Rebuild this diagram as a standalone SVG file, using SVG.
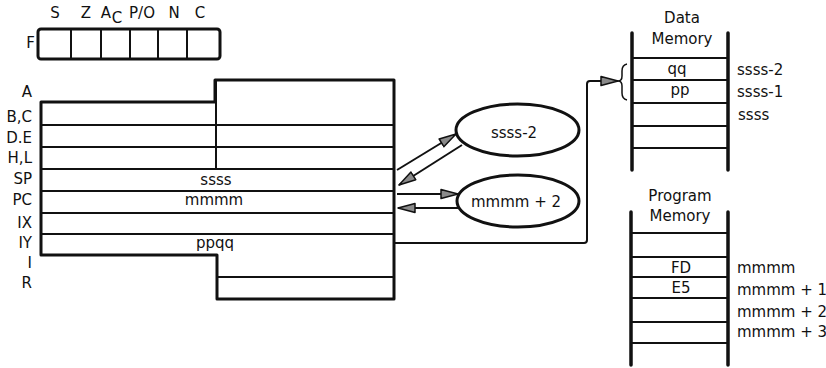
<svg xmlns="http://www.w3.org/2000/svg" width="826" height="368" viewBox="0 0 826 368">
<style>
text{font-family:"DejaVu Sans","Liberation Sans",sans-serif;font-size:15px;fill:#111}
.e{text-anchor:end}
.m{text-anchor:middle}
.out{fill:none;stroke:#111;stroke-width:3;stroke-linejoin:round}
.ln{fill:none;stroke:#111;stroke-width:2}
.rail{fill:none;stroke:#111;stroke-width:3.5;stroke-linecap:round}
.conn{fill:none;stroke:#111;stroke-width:2}
</style>
<defs>
<marker id="ah" markerWidth="20" markerHeight="12" refX="18" refY="6" orient="auto" markerUnits="userSpaceOnUse">
<path d="M1,1.5 L18,6 L1,10.5 Z" fill="#8a8a8a" stroke="#111" stroke-width="1.5" stroke-linejoin="round"/>
</marker>
</defs>

<g id="flags">
<text x="55" y="18" class="m">S</text>
<text x="86" y="18" class="m">Z</text>
<text x="106" y="18" class="m">A</text>
<text x="117" y="23" class="m">C</text>
<text x="142" y="18" class="m">P/O</text>
<text x="174" y="18" class="m">N</text>
<text x="200" y="18" class="m">C</text>
<text x="35" y="48" class="e">F</text>
<rect x="38" y="29" width="182" height="30" rx="3" class="out"/>
<path d="M71,29V59 M101,29V59 M130,29V59 M158,29V59 M187,29V59" class="ln"/>
</g>

<g id="registers">
<path d="M41,102 H215 V80 H394 V299 H217 V255 H41 Z" class="out"/>
<path d="M41,125H394 M41,147H394 M41,169H394 M41,191H394 M41,213H394 M41,234H394 M217,277H394 M216,80V169" class="ln"/>
<text x="32" y="97" class="e">A</text>
<text x="32" y="122" class="e">B,C</text>
<text x="32" y="143" class="e">D.E</text>
<text x="32" y="163" class="e">H,L</text>
<text x="32" y="184" class="e">SP</text>
<text x="32" y="205" class="e">PC</text>
<text x="32" y="228" class="e">IX</text>
<text x="32" y="248" class="e">IY</text>
<text x="32" y="268" class="e">I</text>
<text x="32" y="288" class="e">R</text>
<text x="216" y="185" class="m">ssss</text>
<text x="214" y="205" class="m">mmmm</text>
<text x="215" y="248" class="m">ppqq</text>
</g>

<g id="sp-dec">
<ellipse cx="517.5" cy="130" rx="61.5" ry="26" class="out"/>
<text x="514" y="138" class="m">ssss-2</text>
</g>

<g id="pc-inc">
<ellipse cx="518" cy="201" rx="61" ry="26" class="out"/>
<text x="516" y="207" class="m">mmmm + 2</text>
</g>

<g id="data-memory">
<text x="682" y="23" class="m">Data</text>
<text x="682" y="44" class="m">Memory</text>
<path d="M632,33V170 M728,33V170" class="rail"/>
<path d="M632,58H728 M632,80H728 M632,103H728 M632,126H728 M632,148H728" class="ln"/>
<text x="677" y="74" class="m">qq</text>
<text x="680" y="95" class="m">pp</text>
<text x="737" y="75">ssss-2</text>
<text x="737" y="97">ssss-1</text>
<text x="738" y="120">ssss</text>
<path d="M627,64 Q622,65 622,71 L622,76 Q622,81 618,81 Q622,81 622,86 L622,93 Q622,99 627,100" fill="none" stroke="#111" stroke-width="1.5"/>
</g>

<g id="program-memory">
<text x="680" y="201" class="m">Program</text>
<text x="680" y="221" class="m">Memory</text>
<path d="M631,212V365 M728,212V365" class="rail"/>
<path d="M631,233H728 M631,257H728 M631,277H728 M631,298H728 M631,322H728 M631,343H728" class="ln"/>
<text x="681" y="273" class="m">FD</text>
<text x="681" y="293" class="m">E5</text>
<text x="737" y="273">mmmm</text>
<text x="737" y="295">mmmm + 1</text>
<text x="737" y="317">mmmm + 2</text>
<text x="737" y="337">mmmm + 3</text>
</g>

<g id="connectors">
<line x1="397" y1="170" x2="456" y2="134" class="conn" marker-end="url(#ah)"/>
<line x1="462" y1="145" x2="399" y2="185" class="conn" marker-end="url(#ah)"/>
<line x1="397" y1="194" x2="458" y2="194" class="conn" marker-end="url(#ah)"/>
<line x1="459" y1="208" x2="398" y2="208" class="conn" marker-end="url(#ah)"/>
<path d="M394,243 H584 Q587,243 587,240 V84 Q587,81 590,81 H618" class="conn" marker-end="url(#ah)"/>
</g>
</svg>
